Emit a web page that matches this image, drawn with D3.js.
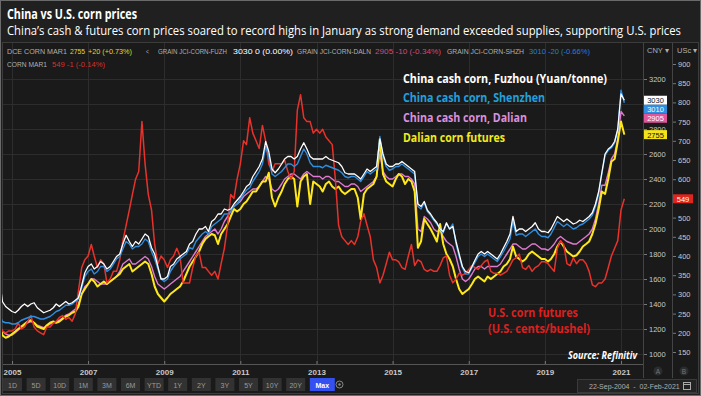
<!DOCTYPE html>
<html>
<head>
<meta charset="utf-8">
<script src="https://cdn.jsdelivr.net/npm/d3@7"></script>
<style>
body{margin:0;background:#1c1c1c;}
svg{display:block;font-family:"Liberation Sans",Arial,sans-serif;}
</style>
</head>
<body>
<div id="viz"></div>
<script>
// monthly readings, 22-Sep-2004 .. 02-Feb-2021
var fuzhou = [
1480,1420,1380,1360,
1340,1330,1350,1380,1400,1380,1400,1410,1370,1350,1330,1340,
1350,1370,1400,1380,1400,1420,1400,1410,1430,1450,1550,1650,
1700,1720,1680,1700,1740,1720,1680,1700,1740,1780,1800,1880,
1950,1900,1860,1900,1880,1920,1960,1940,1850,1800,1700,1600,
1600,1620,1700,1720,1760,1780,1800,1820,1880,1900,1960,2000,
2000,2020,1980,2060,2080,2120,2120,2160,2150,2160,2200,2230,
2260,2300,2340,2360,2420,2460,2500,2560,2700,2620,2480,2450,
2480,2520,2560,2580,2580,2560,2580,2640,2690,2640,2580,2560,
2560,2560,2560,2580,2560,2550,2540,2530,2500,2450,2440,2440,
2440,2420,2400,2440,2480,2460,2480,2500,2720,2600,2520,2500,
2500,2520,2520,2540,2520,2500,2480,2460,2200,2180,2220,2150,
2120,2080,2050,2000,1980,2050,2000,2020,1900,1800,1700,1660,
1650,1700,1750,1800,1820,1800,1820,1800,1780,1760,1800,1850,
1900,1960,2100,1980,2000,2000,1980,2000,2020,2050,2000,1980,
1980,1970,2000,2050,2100,2080,2060,2080,2060,2040,2050,2070,
2060,2080,2100,2130,2200,2300,2450,2600,2640,2660,2700,2800,
3080,3030];

var shenzhen = [
1280,1260,1250,1250,
1240,1240,1250,1270,1280,1290,1300,1300,1290,1280,1280,1290,
1300,1320,1340,1350,1370,1390,1390,1400,1420,1440,1530,1620,
1660,1680,1640,1660,1700,1700,1660,1680,1720,1760,1780,1840,
1900,1880,1840,1860,1860,1880,1920,1900,1820,1760,1680,1600,
1580,1600,1660,1700,1730,1760,1780,1800,1850,1840,1900,1930,
1960,1980,1960,2020,2040,2060,2080,2120,2120,2140,2180,2200,
2240,2280,2310,2330,2380,2420,2460,2520,2660,2580,2440,2420,
2440,2460,2490,2520,2520,2500,2520,2580,2640,2600,2530,2500,
2500,2500,2490,2510,2500,2490,2480,2470,2450,2420,2410,2420,
2420,2400,2380,2420,2460,2440,2460,2480,2740,2580,2500,2470,
2480,2500,2500,2520,2500,2480,2460,2440,2180,2160,2210,2140,
2110,2070,2040,2000,1970,2040,2000,2040,1880,1780,1690,1640,
1640,1690,1730,1780,1800,1780,1800,1780,1760,1740,1780,1820,
1870,1920,2060,1950,1960,1960,1940,1960,1980,2000,1960,1940,
1940,1930,1960,2010,2060,2040,2020,2040,2020,2000,2010,2030,
2040,2060,2080,2110,2180,2280,2440,2590,2630,2650,2690,2790,
3110,3010];

var dalianCash = [
1200,1180,1160,1150,
1150,1170,1190,1210,1230,1250,1260,1250,1230,1220,1210,1220,
1240,1250,1260,1270,1290,1310,1320,1340,1360,1400,1480,1540,
1560,1600,1600,1580,1560,1560,1560,1580,1600,1620,1660,1720,
1740,1760,1720,1720,1740,1760,1780,1760,1700,1620,1560,1540,
1520,1540,1560,1580,1600,1620,1660,1700,1740,1780,1820,1860,
1900,1940,1960,1980,2000,1960,2000,2060,2100,2140,2180,2200,
2220,2260,2280,2300,2320,2320,2340,2380,2420,2400,2320,2300,
2320,2360,2400,2420,2440,2440,2420,2400,2440,2460,2440,2420,
2420,2420,2400,2420,2420,2400,2380,2380,2360,2340,2340,2360,
2360,2340,2300,2320,2340,2360,2380,2420,2600,2460,2420,2400,
2400,2420,2440,2440,2420,2420,2400,2360,2000,1980,2100,2080,
2050,2000,1980,1990,1940,1900,1880,1860,1780,1680,1600,1580,
1600,1640,1680,1700,1700,1680,1700,1700,1700,1700,1720,1760,
1800,1840,1880,1880,1860,1840,1840,1860,1880,1880,1860,1840,
1840,1830,1850,1880,1920,1940,1920,1900,1890,1880,1880,1900,
1920,1940,1960,2000,2080,2200,2350,2350,2450,2560,2600,2720,
2940,2905];

var dalianFut = [
1180,1150,1130,1140,
1160,1180,1200,1220,1240,1260,1270,1250,1220,1210,1200,1230,
1250,1260,1250,1260,1280,1300,1310,1330,1340,1380,1480,1520,
1560,1600,1580,1540,1560,1580,1560,1580,1600,1620,1640,1680,
1700,1720,1660,1680,1700,1720,1740,1720,1640,1540,1480,1450,
1420,1450,1480,1500,1520,1540,1580,1640,1700,1740,1780,1820,
1880,1920,1940,1960,1950,1880,1960,2000,2040,2100,2160,2140,
2160,2200,2220,2260,2300,2300,2340,2380,2380,2450,2250,2180,
2250,2300,2360,2400,2420,2400,2180,2380,2420,2440,2200,2380,
2360,2340,2300,2360,2380,2340,2320,2340,2300,2280,2300,2320,
2320,2250,2080,2280,2320,2340,2360,2420,2720,2440,2380,2360,
2340,2400,2440,2420,2360,2400,2380,2300,1850,1900,2080,2040,
2000,1950,1900,2040,1880,1800,1760,1700,1600,1520,1480,1500,
1520,1560,1600,1620,1600,1580,1620,1600,1620,1640,1660,1700,
1720,1760,1860,1780,1760,1740,1760,1800,1820,1800,1780,1760,
1760,1740,1760,1800,1860,1900,1860,1820,1800,1780,1790,1820,
1860,1880,1900,1960,2040,2160,2300,2280,2400,2540,2560,2700,
2860,2755];

var usCorn = [
210,205,200,205,
205,210,225,210,215,230,245,215,205,200,195,215,
215,225,230,240,245,235,240,230,250,310,370,390,
400,430,400,370,390,380,330,340,360,360,390,440,
480,520,560,600,620,750,640,560,520,430,380,400,
390,370,390,400,420,400,330,330,330,370,400,410,
370,370,360,350,360,340,380,420,480,560,550,600,
640,700,690,760,720,700,680,740,700,640,620,640,
640,640,650,620,600,620,780,820,760,750,750,720,
730,720,730,710,700,690,600,480,450,440,430,440,
430,450,490,510,480,450,390,370,330,350,380,410,
390,390,385,370,365,400,430,375,390,385,365,360,
365,360,360,375,395,400,350,330,340,355,350,355,
365,375,370,365,375,385,390,360,355,355,350,355,
360,375,390,395,405,370,365,375,360,370,375,385,
385,380,370,360,420,440,430,380,375,395,380,390,
390,380,360,325,320,330,330,340,370,400,420,440,
520,549];

var dates = [new Date(2004,8,22)]
	.concat(d3.timeMonth.range(new Date(2004,9,1), new Date(2021,0,2)))
	.concat([new Date(2021,1,2)]);

var cnyTicks = [1000,1200,1400,1600,1800,2000,2200,2400,2600,2800,3000,3200];
var uscTicks = [150,200,250,300,350,400,450,500,550,600,650,700,750,800,850,900];
var yearTicks = [2005,2007,2009,2011,2013,2015,2017,2019,2021].map(function(y){return new Date(y,0,1);});
var buttons = ["1D","5D","10D","1M","3M","6M","YTD","1Y","2Y","3Y","5Y","10Y","20Y","Max"];

var lastCny = [
	{v:3030, bg:"#ffffff", fg:"#111"},
	{v:3010, bg:"#2f8ee0", fg:"#fff"},
	{v:2905, bg:"#e0559c", fg:"#fff"},
	{v:2755, bg:"#f3e31a", fg:"#111"}
];

var W = 701, H = 396;

var svg = d3.select("#viz")
	.append("svg")
	.attr("width",W)
	.attr("height",H);

// frame
svg.append("rect").attr("x",0.5).attr("y",0.5).attr("width",W-1).attr("height",H-1)
	.attr("fill","#202020").attr("stroke","#6a6a6a");
svg.append("rect").attr("x",2.5).attr("y",42.5).attr("width",W-5).attr("height",H-45)
	.attr("fill","#1a1a1a").attr("stroke","#3c3c3c");

// titles
svg.append("text").attr("x",7).attr("y",19)
	.attr("font-family","'Open Sans',sans-serif").attr("font-weight","bold")
	.attr("font-size",14).attr("fill","#fff")
	.attr("textLength",130).attr("lengthAdjust","spacingAndGlyphs")
	.text("China vs U.S. corn prices");
svg.append("text").attr("x",7).attr("y",35)
	.attr("font-family","'Open Sans',sans-serif")
	.attr("font-size",13).attr("fill","#fff")
	.attr("textLength",674).attr("lengthAdjust","spacingAndGlyphs")
	.text("China\u2019s cash & futures corn prices soared to record highs in January as strong demand exceeded supplies, supporting U.S. prices");

var x = d3.scaleTime()
	.domain([new Date(2005,0,1), new Date(2021,0,1)])
	.range([12,621]);
var yCny = d3.scaleLinear().domain([1000,3200]).range([354,79]);
var yUsc = d3.scaleLinear().domain([150,900]).range([352,64]);

// grid
var grid = svg.append("g");
grid.selectAll(".h").data(cnyTicks).enter().append("line")
	.attr("x1",3).attr("x2",643)
	.attr("y1",function(d){return yCny(d)+0.5;}).attr("y2",function(d){return yCny(d)+0.5;})
	.attr("stroke","#2d2d2d");
grid.selectAll(".v").data(yearTicks).enter().append("line")
	.attr("x1",function(d){return Math.round(x(d))+0.5;}).attr("x2",function(d){return Math.round(x(d))+0.5;})
	.attr("y1",43).attr("y2",364)
	.attr("stroke","#2d2d2d");

// column separators
svg.append("line").attr("x1",643.5).attr("x2",643.5).attr("y1",43).attr("y2",378).attr("stroke","#444");
svg.append("line").attr("x1",672.5).attr("x2",672.5).attr("y1",43).attr("y2",378).attr("stroke","#444");
svg.append("line").attr("x1",3).attr("x2",643).attr("y1",364.5).attr("y2",364.5).attr("stroke","#555");

// header quotes: [x, text, colour, width]
var hdr = svg.append("g").attr("font-size",7.5).attr("fill","#b0b0b0");
var row1 = [
	[7,"DCE CORN MAR1","#b0b0b0",60],[70,"2755","#e8d620",15],[88,"+20 (+0.73%)","#e8d620",44],
	[146,"<","#b0b0b0",3],[158,"GRAIN JCI-CORN-FUZH","#b0b0b0",69],[233,"3030 0 (0.00%)","#ffffff",60],
	[297,"GRAIN JCI-CORN-DALN","#b0b0b0",74],[375,"2905 -10 (-0.34%)","#d04a7f",66],
	[447,"GRAIN JCI-CORN-SHZH","#b0b0b0",77],[529,"3010 -20 (-0.66%)","#2a7fd0",61]
];
hdr.selectAll(".r1").data(row1).enter().append("text")
	.attr("x",function(d){return d[0];}).attr("y",54)
	.attr("fill",function(d){return d[2];})
	.attr("textLength",function(d){return d[3];}).attr("lengthAdjust","spacingAndGlyphs")
	.text(function(d){return d[1];});
hdr.append("text").attr("x",7).attr("y",67)
	.attr("textLength",40).attr("lengthAdjust","spacingAndGlyphs").text("CORN MAR1");
hdr.append("text").attr("x",52).attr("y",67).attr("fill","#d8302a")
	.attr("textLength",53).attr("lengthAdjust","spacingAndGlyphs").text("549 -1 (-0.14%)");
hdr.append("text").attr("x",647).attr("y",53).text("CNY \u25BE");
hdr.append("text").attr("x",677).attr("y",53).text("USc \u25BE");

// series
var plot = svg.append("g");
plot.append("clipPath").attr("id","clip").append("rect")
	.attr("x",2).attr("y",43).attr("width",641).attr("height",321);
plot.attr("clip-path","url(#clip)");

function lineFor(scale){
	return d3.line()
		.x(function(d,i){return x(dates[i]);})
		.y(function(d){return scale(d);});
}

var series = [
	{data:dalianCash, scale:yCny, color:"#e07ad2", w:1.4},
	{data:dalianFut, scale:yCny, color:"#ffe81a", w:2},
	{data:usCorn, scale:yUsc, color:"#e8322b", w:1.5},
	{data:shenzhen, scale:yCny, color:"#2f8ee0", w:1.4},
	{data:fuzhou, scale:yCny, color:"#ffffff", w:1.3}
];
plot.selectAll("path").data(series).enter().append("path")
	.attr("d",function(s){return lineFor(s.scale)(s.data);})
	.attr("fill","none")
	.attr("stroke",function(s){return s.color;})
	.attr("stroke-width",function(s){return s.w;})
	.attr("stroke-linejoin","round");

// axes
var axCny = svg.append("g").attr("transform","translate(644,0)")
	.call(d3.axisRight(yCny).tickValues(cnyTicks).tickSize(3).tickPadding(2).tickFormat(d3.format("d")));
var axUsc = svg.append("g").attr("transform","translate(673,0)")
	.call(d3.axisRight(yUsc).tickValues(uscTicks).tickSize(3).tickPadding(2));
var axX = svg.append("g").attr("transform","translate(0,364)")
	.call(d3.axisBottom(x).tickValues(yearTicks).tickFormat(d3.timeFormat("%Y")).tickSize(-3).tickPadding(5));
[axCny,axUsc,axX].forEach(function(a){
	a.select(".domain").remove();
	a.selectAll("line").attr("stroke","#777");
	a.selectAll("text").attr("fill","#c8c8c8").attr("font-size",7.5)
		.attr("font-family","'Liberation Sans',Arial,sans-serif");
});
axX.selectAll("text").attr("font-weight","bold").attr("font-size",8);
// labels hidden under the last-price tags
axCny.selectAll(".tick").filter(function(d){return d === 3000;}).select("text").remove();
axUsc.selectAll(".tick").filter(function(d){return d === 550;}).select("text").remove();

// last-price tags
var tagY = lastCny.map(function(d){return yCny(d.v);});
for (var i = 1; i < tagY.length; i++) {
	if (tagY[i] - tagY[i-1] < 9) tagY[i] = tagY[i-1] + 9;
}
var tags = svg.selectAll(".tag").data(lastCny).enter().append("g")
	.attr("transform",function(d,i){return "translate(644,"+tagY[i]+")";});
tags.append("rect").attr("x",0).attr("y",-4.5).attr("width",23).attr("height",9)
	.attr("fill",function(d){return d.bg;});
tags.append("text").attr("x",11.5).attr("y",3).attr("text-anchor","middle")
	.attr("font-size",7.5).attr("fill",function(d){return d.fg;})
	.text(function(d){return d.v;});
var redTag = svg.append("g").attr("transform","translate(673,"+yUsc(usCorn[usCorn.length-1])+")");
redTag.append("rect").attr("x",0).attr("y",-4.5).attr("width",20).attr("height",9).attr("fill","#e0241e");
redTag.append("text").attr("x",10).attr("y",3).attr("text-anchor","middle")
	.attr("font-size",7.5).attr("fill","#fff").text(usCorn[usCorn.length-1]);

// annotations
var ann = svg.append("g").attr("font-family","'Open Sans',sans-serif").attr("font-weight","bold").attr("font-size",12);
var legend = [
	["China cash corn, Fuzhou (Yuan/tonne)","#ffffff",83,204],
	["China cash corn, Shenzhen","#22a0dc",102,142],
	["China cash corn, Dalian","#dd8fdc",122,124],
	["Dalian corn futures","#f3ea1c",142,102]
];
ann.selectAll(".lg").data(legend).enter().append("text")
	.attr("x",403).attr("y",function(d){return d[2];})
	.attr("fill",function(d){return d[1];})
	.attr("textLength",function(d){return d[3];}).attr("lengthAdjust","spacingAndGlyphs")
	.text(function(d){return d[0];});
ann.append("text").attr("x",488).attr("y",317).attr("fill","#dc1f1f").attr("font-size",11.5)
	.attr("textLength",90).attr("lengthAdjust","spacingAndGlyphs").text("U.S. corn futures");
ann.append("text").attr("x",488).attr("y",332.5).attr("fill","#dc1f1f").attr("font-size",11.5)
	.attr("textLength",102).attr("lengthAdjust","spacingAndGlyphs").text("(U.S. cents/bushel)");
ann.append("text").attr("x",568).attr("y",359).attr("fill","#fff").attr("font-style","italic")
	.attr("font-size",10.5).attr("textLength",69).attr("lengthAdjust","spacingAndGlyphs").text("Source: Refinitiv");

// A / B markers
[["A",658],["B",684]].forEach(function(m){
	svg.append("circle").attr("cx",m[1]).attr("cy",371).attr("r",4.5).attr("fill","#2c2c2c");
	svg.append("text").attr("x",m[1]).attr("y",373.5).attr("text-anchor","middle")
		.attr("font-size",6.5).attr("fill","#777").text(m[0]);
});

// toolbar
var tb = svg.append("g").attr("font-size",7);
buttons.forEach(function(b,i){
	var bx = 3 + i*23.6, bw = b === "Max" ? 25 : 19;
	tb.append("rect").attr("x",bx).attr("y",378).attr("width",bw).attr("height",13)
		.attr("fill", b === "Max" ? "#3451f0" : "#323232");
	tb.append("text").attr("x",bx+bw/2).attr("y",387.5).attr("text-anchor","middle")
		.attr("fill", b === "Max" ? "#fff" : "#9a9a9a")
		.attr("font-weight", b === "Max" ? "bold" : "normal").text(b);
});
tb.append("circle").attr("cx",339.5).attr("cy",384.5).attr("r",3.5).attr("fill","none").attr("stroke","#888");
tb.append("circle").attr("cx",339.5).attr("cy",384.5).attr("r",1.2).attr("fill","#888");

// date range
svg.append("rect").attr("x",577.5).attr("y",379.5).attr("width",119).attr("height",13)
	.attr("fill","#232323").attr("stroke","#3a3a3a");
svg.append("text").attr("x",589).attr("y",389).attr("font-size",7).attr("fill","#b0b0b0")
	.attr("xml:space","preserve").text("22-Sep-2004  -  02-Feb-2021");
svg.append("rect").attr("x",683.5).attr("y",382.5).attr("width",7).attr("height",7)
	.attr("fill","none").attr("stroke","#aaa");
svg.append("line").attr("x1",683.5).attr("x2",690.5).attr("y1",384.5).attr("y2",384.5).attr("stroke","#aaa");
</script>
</body>
</html>
